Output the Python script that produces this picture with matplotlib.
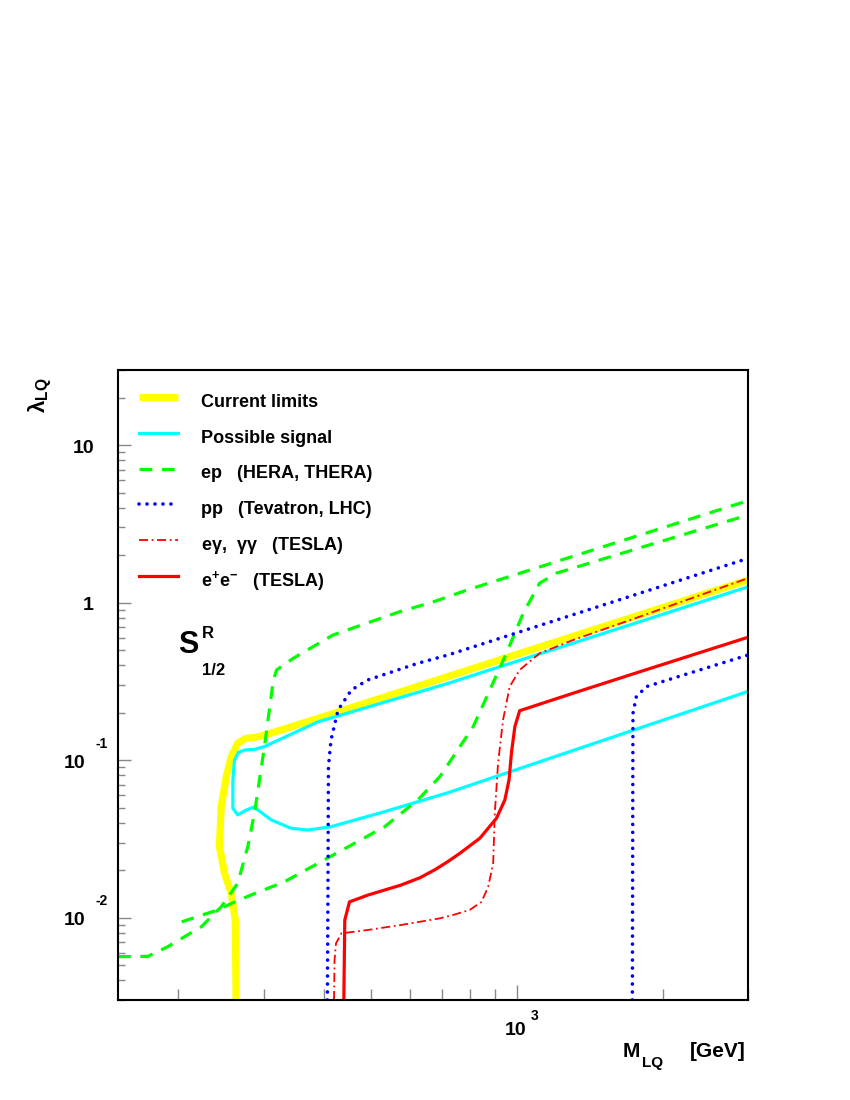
import matplotlib
matplotlib.use("Agg")
import matplotlib.pyplot as plt
from matplotlib.transforms import offset_copy
from matplotlib.ticker import FixedLocator, LogLocator, NullFormatter

plt.rcParams['font.family'] = ['Liberation Sans', 'DejaVu Sans']
plt.rcParams['font.weight'] = 'bold'
plt.rcParams['mathtext.fontset'] = 'custom'
plt.rcParams['mathtext.rm'] = 'Liberation Sans:bold'
plt.rcParams['mathtext.bf'] = 'Liberation Sans:bold'
plt.rcParams['mathtext.it'] = 'Liberation Sans:bold'
plt.rcParams['mathtext.default'] = 'regular'

# current limits (yellow band)
cur_m = [263, 262, 257, 249, 243, 245, 251, 257, 265, 276, 287, 301, 388, 720, 3000]
cur_l = [0.003, 0.0097, 0.0143, 0.0191, 0.0282, 0.0506, 0.0785, 0.105, 0.128,
         0.138, 0.139, 0.144, 0.184, 0.339, 1.39]

# possible signal (cyan contour)
sig_m = [3000, 720, 388, 301, 287, 274, 266, 261, 259, 259, 265, 276, 285, 292,
         311, 342, 370, 413, 533, 720, 3000]
sig_l = [1.26, 0.307, 0.175, 0.122, 0.117, 0.116, 0.112, 0.100, 0.0749, 0.0495,
         0.0449, 0.0482, 0.0502, 0.0482, 0.0417, 0.0369, 0.0360, 0.0378, 0.0471,
         0.0621, 0.273]

# ep: HERA and THERA
hera_m = [150, 173, 190, 223, 245, 265, 278, 287, 301, 314, 319, 345, 417, 489,
          573, 671, 787, 3000]
hera_l = [0.00565, 0.00568, 0.00654, 0.00876, 0.0117, 0.0165, 0.0282, 0.046,
          0.122, 0.323, 0.374, 0.443, 0.623, 0.740, 0.876, 1.01, 1.20, 4.44]
thera_m = [203, 241, 257, 282, 331, 388, 455, 533, 624, 693, 812, 951, 1030,
           1114, 1207, 3000]
thera_l = [0.0094, 0.0112, 0.0123, 0.0139, 0.0169, 0.0221, 0.0289, 0.0378,
           0.0559, 0.0785, 0.163, 0.477, 0.856, 1.33, 1.54, 3.60]

# pp: Tevatron and LHC
tev_m = [406, 407, 408, 413, 427, 455, 492, 624, 720, 3000]
tev_l = [0.003, 0.0129, 0.0909, 0.134, 0.208, 0.279, 0.323, 0.412, 0.465, 1.91]
lhc_m = [1731, 1736, 1764, 1851, 2100, 3000]
lhc_l = [0.003, 0.198, 0.253, 0.293, 0.331, 0.465]

# e gamma, gamma gamma (TESLA)
eg_m = [419, 420, 423, 434, 492, 576, 693, 738, 799, 845, 872, 893, 900, 914,
        936, 966, 1013, 1114, 1306, 1793, 3000]
eg_l = [0.003, 0.00538, 0.00687, 0.00795, 0.00835, 0.00898, 0.0099, 0.0104,
        0.0112, 0.0126, 0.0157, 0.0221, 0.046, 0.0955, 0.180, 0.293, 0.374,
        0.477, 0.579, 0.815, 1.43]

# e+e- (TESLA)
ee_m = [439, 441, 451, 492, 576, 630, 676, 720, 762, 838, 907, 944, 963, 974,
        990, 1013, 1306, 1793, 3000]
ee_l = [0.003, 0.00966, 0.0126, 0.0139, 0.0161, 0.0179, 0.0201, 0.0227, 0.0256,
        0.0319, 0.0427, 0.0559, 0.0749, 0.111, 0.163, 0.206, 0.266, 0.364, 0.603]

fig = plt.figure(figsize=(8.5, 11), dpi=100)
ax = fig.add_axes([118 / 850, 100 / 1100, 630 / 850, 630 / 1100])

ax.plot(cur_m, cur_l, color='#ffff00', lw=5.2, solid_capstyle='butt',
        label='Current limits')
ax.plot(sig_m, sig_l, color='#00ffff', lw=2.3, label='Possible signal')
ax.plot(hera_m, hera_l, color='#00ff00', lw=2.3, dashes=(4, 3),
        label='ep   (HERA, THERA)')
ax.plot(thera_m, thera_l, color='#00ff00', lw=2.3, dashes=(4, 3))
ax.plot(tev_m, tev_l, color='#0000ff', lw=2.6, dashes=(0.01, 2.2),
        dash_capstyle='round', label='pp   (Tevatron, LHC)')
ax.plot(lhc_m, lhc_l, color='#0000ff', lw=2.6, dashes=(0.01, 2.2),
        dash_capstyle='round')
ax.plot(eg_m, eg_l, color='#ff0000', lw=1.3, dashes=(5, 2, 1, 2),
        label=r'e$\gamma$,  $\gamma\gamma$   (TESLA)')
ax.plot(ee_m, ee_l, color='#ff0000', lw=2.3, label=r'e$^{+}$e$^{-}$   (TESLA)')

ax.set_xscale('log')
ax.set_yscale('log')
ax.set_xlim(150, 3000)
ax.set_ylim(0.003, 30)

ax.xaxis.set_major_locator(FixedLocator([1000]))
ax.xaxis.set_minor_locator(LogLocator(base=10, subs=range(2, 10)))
ax.xaxis.set_minor_formatter(NullFormatter())
ax.yaxis.set_major_locator(FixedLocator([0.01, 0.1, 1, 10]))
ax.yaxis.set_minor_locator(LogLocator(base=10, subs=range(2, 10)))
ax.yaxis.set_minor_formatter(NullFormatter())

ax.tick_params(axis='both', which='both', direction='in', color='#888888',
               top=False, right=False, labelbottom=False, labelleft=False, width=1)
ax.tick_params(axis='x', which='major', length=11)
ax.tick_params(axis='x', which='minor', length=8)
ax.tick_params(axis='y', which='major', length=9)
ax.tick_params(axis='y', which='minor', length=5)
for sp in ax.spines.values():
    sp.set_linewidth(1.5)

# tick labels, ROOT style: "10" with a detached exponent
ytr = ax.get_yaxis_transform()
xtr = ax.get_xaxis_transform()
y_ticks = [10, 1, 0.1, 0.01]
y_exps = ['', '', '-1', '-2']
for yv, ex in zip(y_ticks, y_exps):
    base = '1' if yv == 1 else '10'
    dx = -33 if ex else -24
    ax.text(0, yv, base, ha='right', va='baseline', fontsize=14,
            transform=offset_copy(ytr, fig, x=dx, y=-7.5, units='dots'))
    if ex:
        ax.text(0, yv, ex, ha='left', va='baseline', fontsize=10,
                transform=offset_copy(ytr, fig, x=-23, y=12.5, units='dots'))
ax.text(1000, 0, '10', ha='center', va='baseline', fontsize=14,
        transform=offset_copy(xtr, fig, x=-1, y=-35, units='dots'))
ax.text(1000, 0, '3', ha='left', va='baseline', fontsize=10,
        transform=offset_copy(xtr, fig, x=14, y=-20, units='dots'))

ax.legend(loc='upper left', bbox_to_anchor=(0.0333, 0.973), frameon=False,
          fontsize=13, handlelength=2.16, handletextpad=1.26, handleheight=2.0,
          labelspacing=0.44, borderpad=0, borderaxespad=0)

# axis titles
fig.text(623 / 850, 1 - 1057 / 1100, 'M', ha='left', va='baseline', fontsize=15)
fig.text(642 / 850, 1 - 1067 / 1100, 'LQ', ha='left', va='baseline', fontsize=11)
fig.text(746 / 850, 1 - 1057 / 1100, '[GeV]', ha='right', va='baseline', fontsize=15)
fig.text(40 / 850, 1 - 395 / 1100, r'$\lambda_{LQ}$', ha='center', va='center',
         rotation=90, fontsize=16)

fig.text(178 / 850, 1 - 653 / 1100, 'S', ha='left', va='baseline', fontsize=22)
fig.text(202 / 850, 1 - 638 / 1100, 'R', ha='left', va='baseline', fontsize=12)
fig.text(202 / 850, 1 - 675 / 1100, '1/2', ha='left', va='baseline', fontsize=12)

fig.savefig('out.png', dpi=100)
